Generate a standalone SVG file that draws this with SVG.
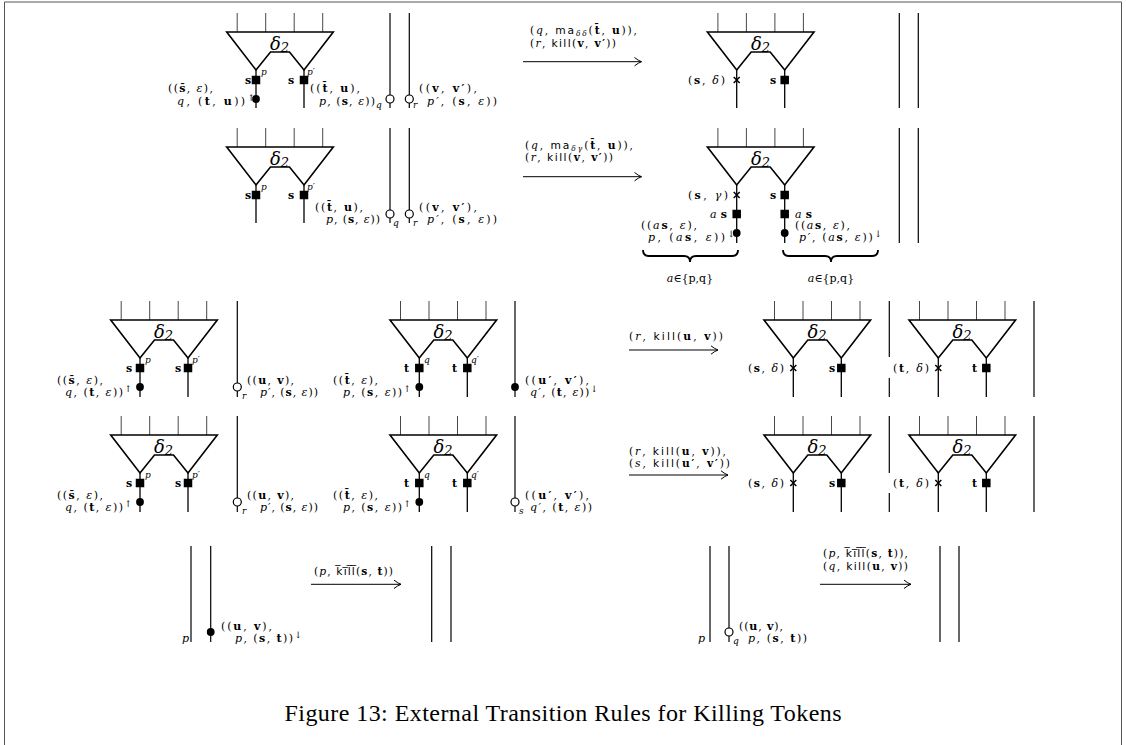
<svg xmlns="http://www.w3.org/2000/svg" xmlns:xlink="http://www.w3.org/1999/xlink" width="1126" height="745" viewBox="0 0 1126 745">
<style>
.gt{fill:none;stroke:#000;stroke-width:1.6;stroke-linejoin:miter}
.tv{stroke:#333;stroke-width:0.9}
.w{stroke:#000;stroke-width:1.3}
.v{stroke:#000;stroke-width:1.2}
.oc{fill:#fff;stroke:#000;stroke-width:1.2}
.fc{fill:#000}
.cx{stroke:#000;stroke-width:1.5;fill:none}
.m{font-family:"DejaVu Serif",serif;font-size:11px;fill:#000}
.al{font-size:10.7px}
.i{font-style:italic}
.b{font-weight:bold}
.sf{font-family:"DejaVu Sans",sans-serif}
.sm{font-size:9px}
.d{font-family:"DejaVu Serif",serif;font-style:italic;font-size:18px}
.ar{stroke:#000;stroke-width:1;fill:none}
.br{fill:none;stroke:#000;stroke-width:1.8}
.fr{stroke:#555;stroke-width:1;fill:none}
.cap{font-family:"Liberation Serif",serif;font-size:24px}
</style>
<defs>
<g id="gate">
<line class="tv" x1="10.5" y1="-19" x2="10.5" y2="0"/>
<line class="tv" x1="39" y1="-19" x2="39" y2="0"/>
<line class="tv" x1="67.5" y1="-19" x2="67.5" y2="0"/>
<line class="tv" x1="96" y1="-19" x2="96" y2="0"/>
<path class="gt" d="M0,0 H106.6 L77.3,38 L62.8,20 H43.8 L29.3,38 Z"/>
</g>
<rect id="sq" x="-4.25" y="-4.25" width="8.5" height="8.5" fill="#000"/>
<path id="cr" class="cx" d="M-3,-3 L3,3 M-3,3 L3,-3"/>
<marker id="ah" markerWidth="12" markerHeight="12" refX="10" refY="6" orient="auto" markerUnits="userSpaceOnUse">
<path d="M3,1.8 Q7,5 10,6 Q7,7 3,10.2" fill="none" stroke="#000" stroke-width="1"/>
</marker>
</defs>
<rect width="1126" height="745" fill="#fff"/>
<path class="fr" d="M4.5,745 V2 H1121.5 V745"/>

<!-- Rule 1 left -->
<g id="r1-left">
<use xlink:href="#gate" x="226.7" y="32"/>
<text class="d" x="270" y="50">δ<tspan dy="2" font-size="13">2</tspan></text>
<line class="w" x1="256" y1="70" x2="256" y2="108"/>
<line class="w" x1="304" y1="70" x2="304" y2="108"/>
<use xlink:href="#sq" x="256" y="80"/>
<use xlink:href="#sq" x="304" y="80"/>
<circle class="fc" cx="256" cy="99" r="3.9"/>
<text class="m b" x="245" y="84">s</text>
<text class="m b" x="288" y="84">s</text>
<text class="m i sm" x="261" y="75">p</text>
<text class="m i sm" x="307" y="75">p′</text>
<line class="v" x1="390" y1="13" x2="390" y2="108"/>
<line class="v" x1="409.3" y1="13" x2="409.3" y2="108"/>
<circle class="oc" cx="390" cy="99" r="4"/>
<circle class="oc" cx="409.3" cy="99" r="4"/>
<text class="m" x="168" y="92" textLength="45">((<tspan class="b">s̄</tspan>, <tspan class="i">ε</tspan>),</text>
<text class="m" x="177" y="104.5" textLength="78"><tspan class="i">q</tspan>, (<tspan class="b">t</tspan>, <tspan class="b">u</tspan>))<tspan dy="-4" font-size="9">↑</tspan></text>
<text class="m" x="310" y="92" textLength="50">((<tspan class="b">t̄</tspan>, <tspan class="b">u</tspan>),</text>
<text class="m" x="319" y="104.5" textLength="56"><tspan class="i">p</tspan>, (<tspan class="b">s</tspan>, <tspan class="i">ε</tspan>))</text>
<text class="m i sm" x="376" y="107.5">q</text>
<text class="m i sm" x="413" y="108">r</text>
<text class="m" x="419" y="92" textLength="58">((<tspan class="b">v</tspan>, <tspan class="b">v′</tspan>),</text>
<text class="m" x="427" y="104.5" textLength="70"><tspan class="i">p′</tspan>, (<tspan class="b">s</tspan>, <tspan class="i">ε</tspan>))</text>
</g>

<!-- Rule 1 right -->
<g id="r1-right">
<use xlink:href="#gate" x="707.4" y="32"/>
<text class="d" x="751" y="50">δ<tspan dy="2" font-size="13">2</tspan></text>
<line class="w" x1="736.7" y1="70" x2="736.7" y2="108"/>
<line class="w" x1="784.7" y1="70" x2="784.7" y2="108"/>
<use xlink:href="#cr" x="736.7" y="80"/>
<use xlink:href="#sq" x="784.7" y="80"/>
<text class="m" x="688" y="84" textLength="37">(<tspan class="b">s</tspan>, <tspan class="i">δ</tspan>)</text>
<text class="m b" x="770" y="84">s</text>
<line class="v" x1="899.3" y1="13" x2="899.3" y2="108"/>
<line class="v" x1="918.3" y1="13" x2="918.3" y2="108"/>
</g>

<!-- Rule 2 left -->
<g id="r2-left">
<use xlink:href="#gate" x="226.7" y="147"/>
<text class="d" x="270" y="165">δ<tspan dy="2" font-size="13">2</tspan></text>
<line class="w" x1="256" y1="185" x2="256" y2="223"/>
<line class="w" x1="304" y1="185" x2="304" y2="223"/>
<use xlink:href="#sq" x="256" y="195"/>
<use xlink:href="#sq" x="304" y="195"/>
<text class="m b" x="245" y="199">s</text>
<text class="m b" x="288" y="199">s</text>
<text class="m i sm" x="261" y="190">p</text>
<text class="m i sm" x="307" y="190">p′</text>
<line class="v" x1="390" y1="128" x2="390" y2="223"/>
<line class="v" x1="409.3" y1="128" x2="409.3" y2="223"/>
<circle class="oc" cx="390" cy="214" r="4"/>
<circle class="oc" cx="409.3" cy="214" r="4"/>
<text class="m" x="315" y="211" textLength="48">((<tspan class="b">t̄</tspan>, <tspan class="b">u</tspan>),</text>
<text class="m" x="326" y="223" textLength="54"><tspan class="i">p</tspan>, (<tspan class="b">s</tspan>, <tspan class="i">ε</tspan>))</text>
<text class="m i sm" x="393" y="226">q</text>
<text class="m i sm" x="413" y="226">r</text>
<text class="m" x="419" y="211" textLength="58">((<tspan class="b">v</tspan>, <tspan class="b">v′</tspan>),</text>
<text class="m" x="427" y="223" textLength="70"><tspan class="i">p′</tspan>, (<tspan class="b">s</tspan>, <tspan class="i">ε</tspan>))</text>
</g>

<!-- Rule 2 right -->
<g id="r2-right">
<use xlink:href="#gate" x="707.4" y="147"/>
<text class="d" x="751" y="165">δ<tspan dy="2" font-size="13">2</tspan></text>
<line class="w" x1="736.7" y1="185" x2="736.7" y2="243"/>
<line class="w" x1="784.7" y1="185" x2="784.7" y2="243"/>
<use xlink:href="#cr" x="736.7" y="195"/>
<use xlink:href="#sq" x="736.7" y="214"/>
<use xlink:href="#sq" x="784.7" y="195"/>
<use xlink:href="#sq" x="784.7" y="214"/>
<circle class="fc" cx="736.7" cy="233" r="3.9"/>
<circle class="fc" cx="784.7" cy="233" r="3.9"/>
<text class="m" x="688" y="199" textLength="40">(<tspan class="b">s</tspan>, <tspan class="i">γ</tspan>)</text>
<text class="m b" x="770" y="199">s</text>
<text class="m" x="710" y="218" textLength="17"><tspan class="i">a</tspan><tspan class="b">s</tspan></text>
<text class="m" x="795" y="218" textLength="17"><tspan class="i">a</tspan><tspan class="b">s</tspan></text>
<text class="m" x="641" y="229" textLength="56">((<tspan class="i">a</tspan><tspan class="b">s</tspan>, <tspan class="i">ε</tspan>),</text>
<text class="m" x="648" y="241" textLength="87"><tspan class="i">p</tspan>, (<tspan class="i">a</tspan><tspan class="b">s</tspan>, <tspan class="i">ε</tspan>))<tspan dy="-4" font-size="9">↓</tspan></text>
<text class="m" x="795" y="229" textLength="55">((<tspan class="i">a</tspan><tspan class="b">s</tspan>, <tspan class="i">ε</tspan>),</text>
<text class="m" x="799" y="241" textLength="83"><tspan class="i">p′</tspan>, (<tspan class="i">a</tspan><tspan class="b">s</tspan>, <tspan class="i">ε</tspan>))<tspan dy="-4" font-size="9">↓</tspan></text>
<path class="br" d="M643,250 Q643,256 649,256 L684,256 Q690,256 690,262 Q690,256 696,256 L732,256 Q738,256 738,250"/>
<path class="br" d="M783,250 Q783,256 789,256 L825,256 Q831,256 831,262 Q831,256 837,256 L872,256 Q878,256 878,250"/>
<text class="m" x="690" y="282" text-anchor="middle" font-size="10.5"><tspan class="i">a</tspan>∈{p,q}</text>
<text class="m" x="831" y="282" text-anchor="middle" font-size="10.5"><tspan class="i">a</tspan>∈{p,q}</text>
<line class="v" x1="899.3" y1="128" x2="899.3" y2="243"/>
<line class="v" x1="918.3" y1="128" x2="918.3" y2="243"/>
</g>

<!-- Rule 3 -->
<g id="r3-left">
<use xlink:href="#gate" x="110.7" y="320"/>
<text class="d" x="154" y="338">δ<tspan dy="2" font-size="13">2</tspan></text>
<line class="w" x1="140" y1="358" x2="140" y2="397"/>
<line class="w" x1="188" y1="358" x2="188" y2="397"/>
<use xlink:href="#sq" x="140" y="368"/>
<use xlink:href="#sq" x="188" y="368"/>
<circle class="fc" cx="140" cy="387" r="3.9"/>
<text class="m b" x="126" y="372">s</text>
<text class="m b" x="175" y="372">s</text>
<text class="m i sm" x="145" y="363">p</text>
<text class="m i sm" x="192" y="363">p′</text>
<text class="m" x="57" y="384" textLength="46">((<tspan class="b">s̄</tspan>, <tspan class="i">ε</tspan>),</text>
<text class="m" x="65" y="396" textLength="67"><tspan class="i">q</tspan>, (<tspan class="b">t</tspan>, <tspan class="i">ε</tspan>))<tspan dy="-4" font-size="9">↑</tspan></text>
<line class="v" x1="237.3" y1="301" x2="237.3" y2="397"/>
<circle class="oc" cx="237.3" cy="387" r="4"/>
<text class="m i sm" x="242" y="399">r</text>
<text class="m" x="247" y="384" textLength="47">((<tspan class="b">u</tspan>, <tspan class="b">v</tspan>),</text>
<text class="m" x="260" y="396" textLength="58"><tspan class="i">p′</tspan>, (<tspan class="b">s</tspan>, <tspan class="i">ε</tspan>))</text>
</g>
<g id="r3-mid">
<use xlink:href="#gate" x="390" y="320"/>
<text class="d" x="433.5" y="338">δ<tspan dy="2" font-size="13">2</tspan></text>
<line class="w" x1="419.3" y1="358" x2="419.3" y2="397"/>
<line class="w" x1="467.3" y1="358" x2="467.3" y2="397"/>
<use xlink:href="#sq" x="419.3" y="368"/>
<use xlink:href="#sq" x="467.3" y="368"/>
<circle class="fc" cx="419.3" cy="387" r="3.9"/>
<text class="m b" x="404" y="372">t</text>
<text class="m b" x="452" y="372">t</text>
<text class="m i sm" x="424" y="363">q</text>
<text class="m i sm" x="471" y="363">q′</text>
<text class="m" x="333" y="384" textLength="45">((<tspan class="b">t̄</tspan>, <tspan class="i">ε</tspan>),</text>
<text class="m" x="343" y="396" textLength="68"><tspan class="i">p</tspan>, (<tspan class="b">s</tspan>, <tspan class="i">ε</tspan>))<tspan dy="-4" font-size="9">↑</tspan></text>
<line class="v" x1="515" y1="301" x2="515" y2="397"/>
<circle class="fc" cx="515" cy="387" r="3.9"/>
<text class="m" x="525" y="384" textLength="64">((<tspan class="b">u′</tspan>, <tspan class="b">v′</tspan>),</text>
<text class="m" x="530" y="396" textLength="68"><tspan class="i">q′</tspan>, (<tspan class="b">t</tspan>, <tspan class="i">ε</tspan>))<tspan dy="-4" font-size="9">↓</tspan></text>
</g>
<g id="r3-right">
<use xlink:href="#gate" x="764" y="320"/>
<text class="d" x="807.5" y="338">δ<tspan dy="2" font-size="13">2</tspan></text>
<line class="w" x1="793.3" y1="358" x2="793.3" y2="397"/>
<line class="w" x1="841.3" y1="358" x2="841.3" y2="397"/>
<use xlink:href="#cr" x="793.3" y="368"/>
<use xlink:href="#sq" x="841.3" y="368"/>
<text class="m" x="748" y="372" textLength="36">(<tspan class="b">s</tspan>, <tspan class="i">δ</tspan>)</text>
<text class="m b" x="829" y="372">s</text>
<line class="v" x1="889.3" y1="301" x2="889.3" y2="357"/>
<line class="v" x1="889.3" y1="378" x2="889.3" y2="397"/>
<use xlink:href="#gate" x="909" y="320"/>
<text class="d" x="952.5" y="338">δ<tspan dy="2" font-size="13">2</tspan></text>
<line class="w" x1="938.3" y1="358" x2="938.3" y2="397"/>
<line class="w" x1="986.3" y1="358" x2="986.3" y2="397"/>
<use xlink:href="#cr" x="938.3" y="368"/>
<use xlink:href="#sq" x="986.3" y="368"/>
<text class="m" x="893" y="372" textLength="36">(<tspan class="b">t</tspan>, <tspan class="i">δ</tspan>)</text>
<text class="m b" x="972" y="372">t</text>
<line class="v" x1="1034" y1="301" x2="1034" y2="397"/>
</g>

<!-- Rule 4 -->
<g id="r4-left">
<use xlink:href="#gate" x="110.7" y="435"/>
<text class="d" x="154" y="453">δ<tspan dy="2" font-size="13">2</tspan></text>
<line class="w" x1="140" y1="473" x2="140" y2="512"/>
<line class="w" x1="188" y1="473" x2="188" y2="512"/>
<use xlink:href="#sq" x="140" y="483"/>
<use xlink:href="#sq" x="188" y="483"/>
<circle class="fc" cx="140" cy="502" r="3.9"/>
<text class="m b" x="126" y="487">s</text>
<text class="m b" x="175" y="487">s</text>
<text class="m i sm" x="145" y="478">p</text>
<text class="m i sm" x="192" y="478">p′</text>
<text class="m" x="57" y="499" textLength="46">((<tspan class="b">s̄</tspan>, <tspan class="i">ε</tspan>),</text>
<text class="m" x="65" y="511" textLength="67"><tspan class="i">q</tspan>, (<tspan class="b">t</tspan>, <tspan class="i">ε</tspan>))<tspan dy="-4" font-size="9">↑</tspan></text>
<line class="v" x1="237.3" y1="416" x2="237.3" y2="512"/>
<circle class="oc" cx="237.3" cy="502" r="4"/>
<text class="m i sm" x="242" y="514">r</text>
<text class="m" x="247" y="499" textLength="47">((<tspan class="b">u</tspan>, <tspan class="b">v</tspan>),</text>
<text class="m" x="260" y="511" textLength="58"><tspan class="i">p′</tspan>, (<tspan class="b">s</tspan>, <tspan class="i">ε</tspan>))</text>
</g>
<g id="r4-mid">
<use xlink:href="#gate" x="390" y="435"/>
<text class="d" x="433.5" y="453">δ<tspan dy="2" font-size="13">2</tspan></text>
<line class="w" x1="419.3" y1="473" x2="419.3" y2="512"/>
<line class="w" x1="467.3" y1="473" x2="467.3" y2="512"/>
<use xlink:href="#sq" x="419.3" y="483"/>
<use xlink:href="#sq" x="467.3" y="483"/>
<circle class="fc" cx="419.3" cy="502" r="3.9"/>
<text class="m b" x="404" y="487">t</text>
<text class="m b" x="452" y="487">t</text>
<text class="m i sm" x="424" y="478">q</text>
<text class="m i sm" x="471" y="478">q′</text>
<text class="m" x="333" y="499" textLength="45">((<tspan class="b">t̄</tspan>, <tspan class="i">ε</tspan>),</text>
<text class="m" x="343" y="511" textLength="68"><tspan class="i">p</tspan>, (<tspan class="b">s</tspan>, <tspan class="i">ε</tspan>))<tspan dy="-4" font-size="9">↑</tspan></text>
<line class="v" x1="515" y1="416" x2="515" y2="512"/>
<circle class="oc" cx="515" cy="502" r="4"/>
<text class="m i sm" x="519" y="514">s</text>
<text class="m" x="525" y="499" textLength="64">((<tspan class="b">u′</tspan>, <tspan class="b">v′</tspan>),</text>
<text class="m" x="530" y="511" textLength="62"><tspan class="i">q′</tspan>, (<tspan class="b">t</tspan>, <tspan class="i">ε</tspan>))</text>
</g>
<g id="r4-right">
<use xlink:href="#gate" x="764" y="435"/>
<text class="d" x="807.5" y="453">δ<tspan dy="2" font-size="13">2</tspan></text>
<line class="w" x1="793.3" y1="473" x2="793.3" y2="512"/>
<line class="w" x1="841.3" y1="473" x2="841.3" y2="512"/>
<use xlink:href="#cr" x="793.3" y="483"/>
<use xlink:href="#sq" x="841.3" y="483"/>
<text class="m" x="748" y="487" textLength="36">(<tspan class="b">s</tspan>, <tspan class="i">δ</tspan>)</text>
<text class="m b" x="829" y="487">s</text>
<line class="v" x1="889.3" y1="416" x2="889.3" y2="473"/>
<line class="v" x1="889.3" y1="493" x2="889.3" y2="512"/>
<use xlink:href="#gate" x="909" y="435"/>
<text class="d" x="952.5" y="453">δ<tspan dy="2" font-size="13">2</tspan></text>
<line class="w" x1="938.3" y1="473" x2="938.3" y2="512"/>
<line class="w" x1="986.3" y1="473" x2="986.3" y2="512"/>
<use xlink:href="#cr" x="938.3" y="483"/>
<use xlink:href="#sq" x="986.3" y="483"/>
<text class="m" x="893" y="487" textLength="36">(<tspan class="b">t</tspan>, <tspan class="i">δ</tspan>)</text>
<text class="m b" x="972" y="487">t</text>
<line class="v" x1="1034" y1="416" x2="1034" y2="512"/>
</g>

<!-- Rule 5 and 6 -->
<g id="r5-left">
<line class="v" x1="191" y1="546" x2="191" y2="642"/>
<line class="v" x1="210.7" y1="546" x2="210.7" y2="642"/>
<circle class="fc" cx="210.7" cy="632" r="3.9"/>
<text class="m i" x="182" y="642">p</text>
<text class="m" x="221" y="630" textLength="51">((<tspan class="b">u</tspan>, <tspan class="b">v</tspan>),</text>
<text class="m" x="235" y="642" textLength="67"><tspan class="i">p</tspan>, (<tspan class="b">s</tspan>, <tspan class="b">t</tspan>))<tspan dy="-4" font-size="9">↓</tspan></text>
</g>
<g id="r5-right">
<line class="v" x1="431.7" y1="546" x2="431.7" y2="642"/>
<line class="v" x1="451" y1="546" x2="451" y2="642"/>
</g>
<g id="r6-left">
<line class="v" x1="710" y1="546" x2="710" y2="642"/>
<line class="v" x1="729" y1="546" x2="729" y2="642"/>
<circle class="oc" cx="729" cy="632" r="4"/>
<text class="m i" x="698" y="642">p</text>
<text class="m i sm" x="733" y="644">q</text>
<text class="m" x="739" y="630" textLength="44">((<tspan class="b">u</tspan>, <tspan class="b">v</tspan>),</text>
<text class="m" x="748" y="642" textLength="59"><tspan class="i">p</tspan>, (<tspan class="b">s</tspan>, <tspan class="b">t</tspan>))</text>
</g>
<g id="r6-right">
<line class="v" x1="940" y1="546" x2="940" y2="642"/>
<line class="v" x1="959" y1="546" x2="959" y2="642"/>
</g>

<!-- Transition arrows -->
<g id="connectors">
<line class="ar" x1="523" y1="61.7" x2="641.5" y2="61.7" marker-end="url(#ah)"/>
<text class="m al" x="530" y="34" textLength="107">(<tspan class="i">q</tspan>, <tspan class="sf">ma</tspan><tspan class="i" dy="2" font-size="7.5">δδ</tspan><tspan dy="-2">(</tspan><tspan class="b">t̄</tspan>, <tspan class="b">u</tspan>)),</text>
<text class="m al" x="530" y="46.5" textLength="86">(<tspan class="i">r</tspan>, <tspan class="sf">kill</tspan>(<tspan class="b">v</tspan>, <tspan class="b">v′</tspan>))</text>

<line class="ar" x1="523" y1="176.7" x2="641.5" y2="176.7" marker-end="url(#ah)"/>
<text class="m al" x="525" y="149" textLength="108">(<tspan class="i">q</tspan>, <tspan class="sf">ma</tspan><tspan class="i" dy="2" font-size="7.5">δγ</tspan><tspan dy="-2">(</tspan><tspan class="b">t̄</tspan>, <tspan class="b">u</tspan>)),</text>
<text class="m al" x="525" y="161" textLength="88">(<tspan class="i">r</tspan>, <tspan class="sf">kill</tspan>(<tspan class="b">v</tspan>, <tspan class="b">v′</tspan>))</text>

<line class="ar" x1="629" y1="350" x2="718" y2="350" marker-end="url(#ah)"/>
<text class="m al" x="629" y="340" textLength="94">(<tspan class="i">r</tspan>, <tspan class="sf">kill</tspan>(<tspan class="b">u</tspan>, <tspan class="b">v</tspan>))</text>

<line class="ar" x1="629" y1="475" x2="728" y2="475" marker-end="url(#ah)"/>
<text class="m al" x="629" y="455" textLength="97">(<tspan class="i">r</tspan>, <tspan class="sf">kill</tspan>(<tspan class="b">u</tspan>, <tspan class="b">v</tspan>)),</text>
<text class="m al" x="629" y="467" textLength="101">(<tspan class="i">s</tspan>, <tspan class="sf">kill</tspan>(<tspan class="b">u′</tspan>, <tspan class="b">v′</tspan>))</text>

<line class="ar" x1="311" y1="584.3" x2="401" y2="584.3" marker-end="url(#ah)"/>
<text class="m al" x="314" y="575" textLength="79">(<tspan class="i">p</tspan>, <tspan class="sf">k̅i̅l̅l̅</tspan>(<tspan class="b">s</tspan>, <tspan class="b">t</tspan>))</text>

<line class="ar" x1="820" y1="584.3" x2="911" y2="584.3" marker-end="url(#ah)"/>
<text class="m al" x="823" y="557" textLength="85">(<tspan class="i">p</tspan>, <tspan class="sf">k̅i̅l̅l̅</tspan>(<tspan class="b">s</tspan>, <tspan class="b">t</tspan>)),</text>
<text class="m al" x="823" y="570" textLength="85">(<tspan class="i">q</tspan>, <tspan class="sf">kill</tspan>(<tspan class="b">u</tspan>, <tspan class="b">v</tspan>))</text>
</g>

<text class="cap" x="563" y="721" text-anchor="middle" textLength="557">Figure 13: External Transition Rules for Killing Tokens</text>
</svg>
